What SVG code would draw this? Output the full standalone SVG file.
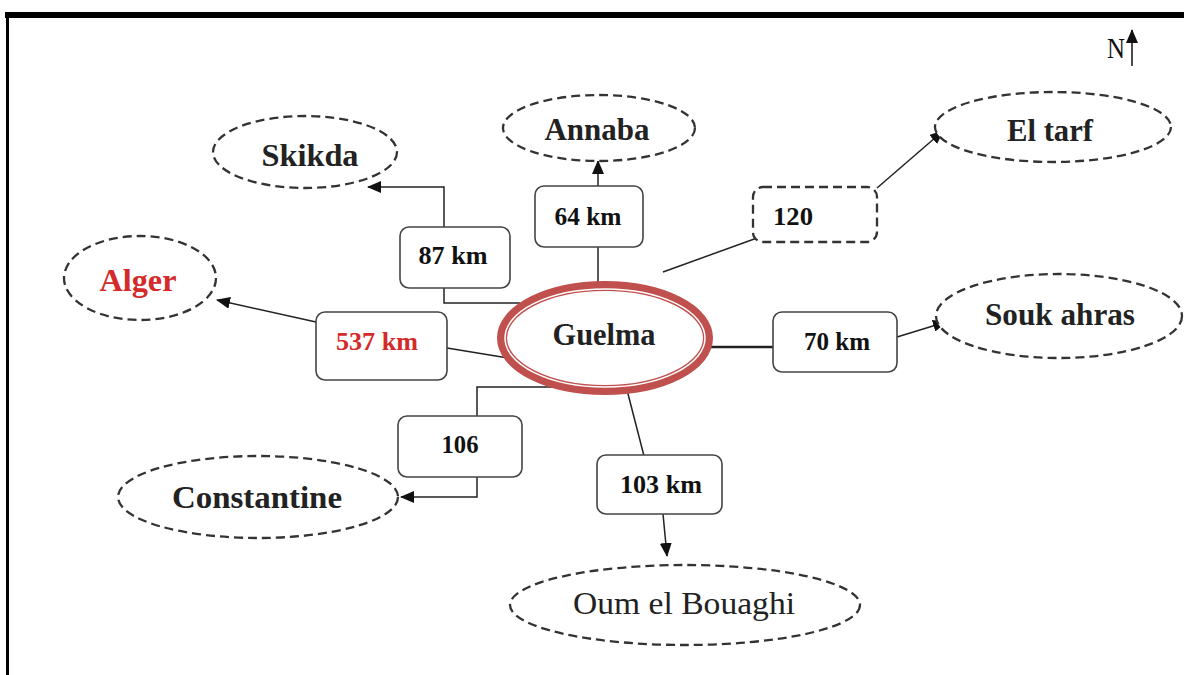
<svg xmlns="http://www.w3.org/2000/svg" width="1184" height="675" viewBox="0 0 1184 675">
<defs>
<marker id="ah" markerUnits="userSpaceOnUse" markerWidth="14" markerHeight="12" refX="13" refY="6" orient="auto">
<path d="M0,0 L14,6 L0,12 Z" fill="#111"/>
</marker>
<style>
.city{fill:#fff;stroke:#333;stroke-width:2.3;stroke-dasharray:9 5}
.name{font-family:"Liberation Serif","Times New Roman",serif;font-weight:bold;font-size:32px;fill:#222;text-anchor:middle}
.thin{font-weight:normal}
.box{fill:#fff;stroke:#444;stroke-width:1.6}
.dbox{fill:#fff;stroke:#333;stroke-width:2.3;stroke-dasharray:9 5}
.lbl{font-family:"Liberation Serif","Times New Roman",serif;font-weight:bold;font-size:26px;fill:#111;text-anchor:middle}
.red{fill:#d42a2a}
.c{fill:none;stroke:#222;stroke-width:1.5}
.ca{fill:none;stroke:#222;stroke-width:1.5;marker-end:url(#ah)}
</style>
</defs>
<rect width="1184" height="675" fill="#fff"/>
<g id="frame">
<line x1="5" y1="15" x2="1184" y2="15" stroke="#000" stroke-width="6"/>
<line x1="7.5" y1="12" x2="7.5" y2="675" stroke="#000" stroke-width="3"/>
</g>
<g id="north">
<text x="1116" y="58" font-family="Liberation Serif,serif" font-size="30" fill="#111" text-anchor="middle" textLength="18" lengthAdjust="spacingAndGlyphs">N</text>
<line x1="1132" y1="66" x2="1132" y2="30" stroke="#111" stroke-width="1.5" marker-end="url(#ah)"/>
</g>
<g id="connectors">
<polyline class="c" points="520,303 444,303 444,288"/>
<polyline class="ca" points="444,227 444,187 368,187"/>
<line class="c" x1="598" y1="286" x2="598" y2="247"/>
<line class="ca" x1="598" y1="186" x2="598" y2="161"/>
<line class="c" x1="663" y1="272" x2="757" y2="238"/>
<line class="ca" x1="877" y1="188" x2="943" y2="131"/>
<line class="c" x1="508" y1="358" x2="447" y2="348"/>
<line class="ca" x1="316" y1="322" x2="217" y2="300"/>
<line x1="709" y1="347" x2="773" y2="347" stroke="#222" stroke-width="2.5"/>
<line class="ca" x1="897" y1="337" x2="946" y2="322"/>
<polyline class="c" points="553,387 477,387 477,416"/>
<polyline class="ca" points="477,477 477,497 401,497"/>
<line class="c" x1="627" y1="390" x2="644" y2="456"/>
<line class="ca" x1="663" y1="514" x2="667" y2="556"/>
</g>
<g id="guelma">
<ellipse cx="605" cy="338" rx="103" ry="52" fill="#fff" stroke="#c0504d" stroke-width="10"/>
<ellipse cx="605" cy="338" rx="100" ry="49" fill="none" stroke="#fff" stroke-width="1.5"/>
<text class="name" x="604" y="345" textLength="103" lengthAdjust="spacingAndGlyphs">Guelma</text>
</g>
<g id="skikda">
<ellipse class="city" cx="305" cy="152" rx="92" ry="36"/>
<text class="name" x="310" y="166" textLength="97" lengthAdjust="spacingAndGlyphs">Skikda</text>
</g>
<g id="annaba">
<ellipse class="city" cx="599" cy="128" rx="96" ry="33"/>
<text class="name" x="597" y="140" textLength="105" lengthAdjust="spacingAndGlyphs">Annaba</text>
</g>
<g id="eltarf">
<ellipse class="city" cx="1053" cy="127" rx="118" ry="35"/>
<text class="name" x="1050" y="141" textLength="86" lengthAdjust="spacingAndGlyphs">El tarf</text>
</g>
<g id="alger">
<ellipse class="city" cx="140" cy="278" rx="76" ry="42"/>
<text class="name red" x="138" y="291" textLength="77" lengthAdjust="spacingAndGlyphs">Alger</text>
</g>
<g id="soukahras">
<ellipse class="city" cx="1059" cy="316" rx="123" ry="42"/>
<text class="name" x="1060" y="325" textLength="150" lengthAdjust="spacingAndGlyphs">Souk ahras</text>
</g>
<g id="constantine">
<ellipse class="city" cx="258" cy="497" rx="140" ry="41"/>
<text class="name" x="257" y="508" textLength="170" lengthAdjust="spacingAndGlyphs">Constantine</text>
</g>
<g id="oumelbouaghi">
<ellipse class="city" cx="685" cy="605" rx="175" ry="40"/>
<text class="name thin" x="684" y="614" textLength="222" lengthAdjust="spacingAndGlyphs">Oum el Bouaghi</text>
</g>
<g id="d87">
<rect class="box" x="400" y="227" width="110" height="61" rx="9"/>
<text class="lbl" x="453" y="264" textLength="69" lengthAdjust="spacingAndGlyphs">87 km</text>
</g>
<g id="d64">
<rect class="box" x="535" y="186" width="108" height="61" rx="9"/>
<text class="lbl" x="588" y="225" textLength="67" lengthAdjust="spacingAndGlyphs">64 km</text>
</g>
<g id="d120">
<rect class="dbox" x="753" y="187" width="124" height="55" rx="10"/>
<text class="lbl" x="793" y="225" textLength="40" lengthAdjust="spacingAndGlyphs">120</text>
</g>
<g id="d537">
<rect class="box" x="316" y="312" width="131" height="68" rx="9"/>
<text class="lbl red" x="377" y="350" textLength="82" lengthAdjust="spacingAndGlyphs">537 km</text>
</g>
<g id="d70">
<rect class="box" x="773" y="312" width="124" height="60" rx="9"/>
<text class="lbl" x="837" y="350" font-size="23" textLength="66" lengthAdjust="spacingAndGlyphs">70 km</text>
</g>
<g id="d106">
<rect class="box" x="398" y="416" width="124" height="61" rx="9"/>
<text class="lbl" x="460" y="453" textLength="37" lengthAdjust="spacingAndGlyphs">106</text>
</g>
<g id="d103">
<rect class="box" x="597" y="455" width="125" height="59" rx="9"/>
<text class="lbl" x="661" y="493" textLength="82" lengthAdjust="spacingAndGlyphs">103 km</text>
</g>
</svg>
